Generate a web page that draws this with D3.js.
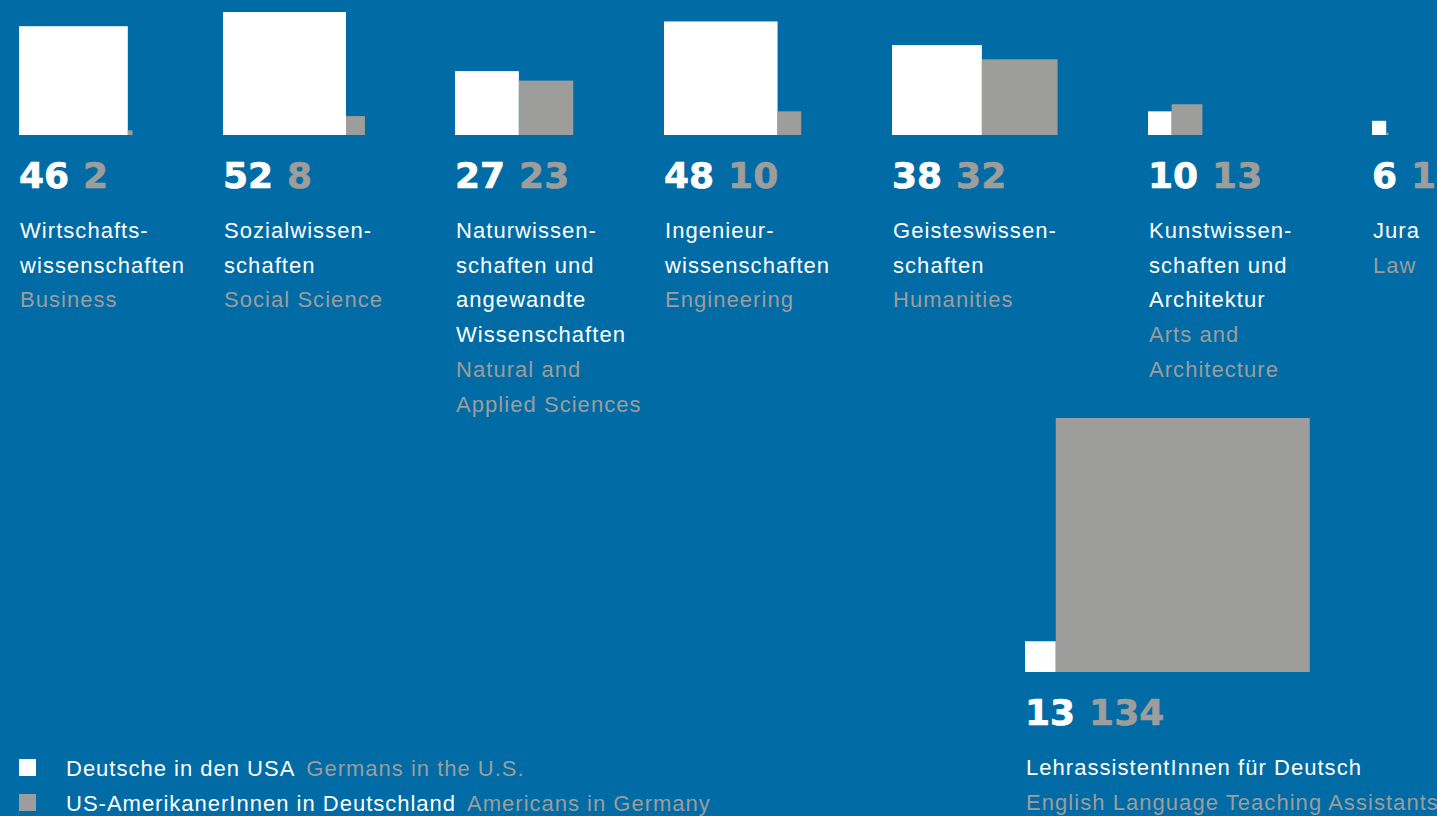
<!DOCTYPE html>
<html>
<head>
<meta charset="utf-8">
<script src="https://cdn.jsdelivr.net/npm/d3@7"></script>
<style>
  html, body { margin: 0; padding: 0; background: #006ba5; overflow: hidden; }
  svg { display: block; }
</style>
</head>
<body>
<div id="chart"></div>
<script>
// Studienfächer – Deutsche in den USA vs. US-AmerikanerInnen in Deutschland
const labelsDe = [
  ["Wirtschafts-", "wissenschaften"],
  ["Sozialwissen-", "schaften"],
  ["Naturwissen-", "schaften und", "angewandte", "Wissenschaften"],
  ["Ingenieur-", "wissenschaften"],
  ["Geisteswissen-", "schaften"],
  ["Kunstwissen-", "schaften und", "Architektur"],
  ["Jura"],
  ["LehrassistentInnen für Deutsch"]
];
const labelsEn = [
  ["Business"],
  ["Social Science"],
  ["Natural and", "Applied Sciences"],
  ["Engineering"],
  ["Humanities"],
  ["Arts and", "Architecture"],
  ["Law"],
  ["English Language Teaching Assistants"]
];
const germansInUS   = [46, 52, 27, 48, 38, 10, 6, 13];
const americansInDE = [2, 8, 23, 10, 32, 13, 1, 134];
const legendDe = ["Deutsche in den USA", "US-AmerikanerInnen in Deutschland"];
const legendEn = ["Germans in the U.S.", "Americans in Germany"];

/* ---------- layout ---------- */
const W = 1437, H = 816;
const colX  = [19, 223, 455, 664, 892, 1148, 1372, 1025];
const baseY = [135, 135, 135, 135, 135, 135, 135, 672];
const WHITE = "#ffffff", GREY = "#9d9d9b";
const LINE_H = 34.7;
const fontText = "'Liberation Sans', Arial, sans-serif";
const fontNum  = "'DejaVu Sans', sans-serif";

// Seitenlänge der Quadrate (große Werte gestaucht)
const side = d3.scaleLinear().domain([0, 52, 134]).range([0, 123, 254]);

const svg = d3.select("#chart").append("svg")
  .attr("width", W).attr("height", H);

const rows = germansInUS.map((g, i) => ({
  i, g, a: americansInDE[i], de: labelsDe[i], en: labelsEn[i],
  x: colX[i], y: baseY[i]
}));

const cols = svg.selectAll("g.col")
  .data(rows)
  .join("g")
    .attr("class", "col")
    .attr("transform", d => `translate(${d.x},${d.y})`);

// Quadrate
cols.append("rect")
  .attr("x", 0)
  .attr("y", d => -side(d.g))
  .attr("width", d => side(d.g))
  .attr("height", d => side(d.g))
  .attr("fill", WHITE);

cols.append("rect")
  .attr("x", d => side(d.g))
  .attr("y", d => -side(d.a))
  .attr("width", d => side(d.a))
  .attr("height", d => side(d.a))
  .attr("fill", GREY);

// Zahlen + Beschriftung
cols.each(function(d){
  const g = d3.select(this);
  const t1 = g.append("text")
    .attr("x", 0).attr("y", 53)
    .attr("font-family", fontNum).attr("font-weight", "bold")
    .attr("font-size", 36).attr("fill", WHITE)
    .attr("stroke", WHITE).attr("stroke-width", 0.7)
    .text(d.g);
  const w = t1.node().getComputedTextLength();
  g.append("text")
    .attr("x", w + 14).attr("y", 53)
    .attr("font-family", fontNum).attr("font-weight", "bold")
    .attr("font-size", 36).attr("fill", GREY)
    .attr("stroke", GREY).attr("stroke-width", 0.7)
    .text(d.a);

  const lines = d.de.map(s => ({s, c: WHITE})).concat(d.en.map(s => ({s, c: GREY})));
  g.selectAll("text.lbl")
    .data(lines)
    .join("text")
      .attr("class", "lbl")
      .attr("x", 1)
      .attr("y", (l, k) => 103 + k * LINE_H)
      .attr("font-family", fontText)
      .attr("font-size", 22)
      .attr("letter-spacing", 1.05)
      .attr("fill", l => l.c)
      .text(l => l.s);
});

// Legende
const leg = svg.append("g").attr("transform", "translate(19,759)");
const li = leg.selectAll("g")
  .data(legendDe)
  .join("g")
    .attr("transform", (d, i) => `translate(0,${i * 35})`);
li.append("rect")
  .attr("width", 17).attr("height", 17)
  .attr("fill", (d, i) => i === 0 ? WHITE : GREY);
li.each(function(d, i){
  const g = d3.select(this);
  const t = g.append("text")
    .attr("x", 47).attr("y", 17)
    .attr("font-family", fontText).attr("font-size", 22)
    .attr("letter-spacing", 1.0)
    .attr("fill", WHITE)
    .text(d);
  const w = t.node().getComputedTextLength();
  g.append("text")
    .attr("x", 47 + w + 11).attr("y", 17)
    .attr("font-family", fontText).attr("font-size", 22)
    .attr("letter-spacing", 1.0)
    .attr("fill", GREY)
    .text(legendEn[i]);
});
</script>
</body>
</html>
